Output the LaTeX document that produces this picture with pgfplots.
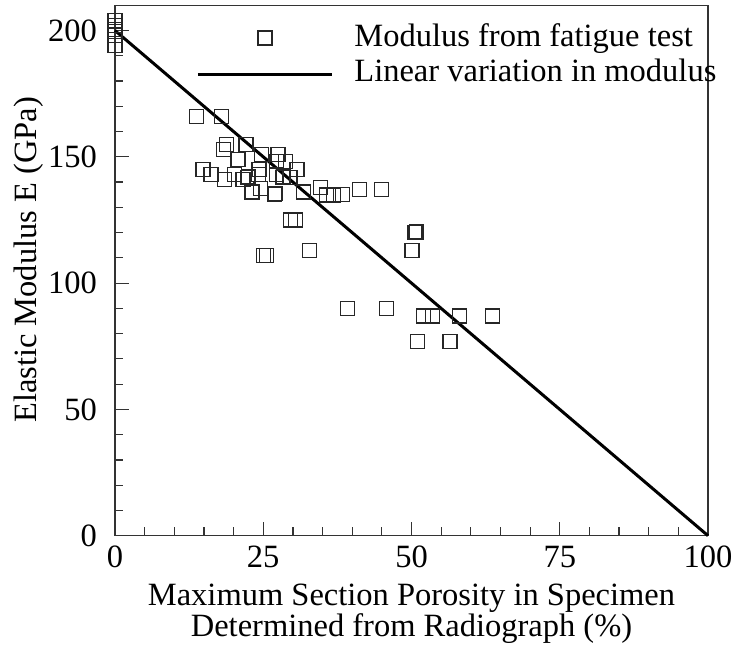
\documentclass[border=0pt]{standalone}
\usepackage{fontspec}
\setmainfont{Liberation Serif}
\usepackage{pgfplots}
\pgfplotsset{compat=1.18}
\pgfplotstableread{
x y
0 204
0 202
0 200.5
0 199.5
0 198
0 194
13.8 165.9
18.0 165.9
18.8 154.9
18.3 153.0
22.1 154.9
20.7 148.9
20.8 149.1
24.7 150.9
27.5 150.9
27.3 148.1
28.7 148.1
14.8 144.9
14.9 145.1
16.2 143.0
18.4 140.9
20.1 143.0
21.6 141.0
22.4 141.9
22.5 142.1
24.3 144.9
24.2 143.0
27.3 142.9
28.3 141.9
28.4 142.1
29.5 141.9
30.7 144.9
23.1 136.1
24.5 137.6
26.9 135.2
27.0 135.5
31.8 136.1
34.6 138.0
35.7 134.9
36.8 134.9
38.3 135.2
41.2 137.0
45.0 137.0
29.6 125.0
30.4 125.0
50.6 120.0
50.8 120.2
50.1 113.0
25.1 111.0
25.6 111.0
32.8 113.0
39.2 90.1
45.8 90.1
52.0 87.0
53.5 87.0
58.1 87.0
63.7 87.0
51.0 76.9
56.5 76.9
}\fatigue
\begin{document}
\begin{tikzpicture}[font=\fontsize{16.25}{15.5}\selectfont]
\begin{axis}[
  scale only axis,
  width=296.5pt, height=265.2pt,
  xmin=0, xmax=100, ymin=0, ymax=210,
  xtick={0,25,50,75,100}, ytick={0,50,100,150,200},
  minor x tick num=4, minor y tick num=4,
  xtick pos=lower, ytick pos=left,
  tick align=inside,
  major tick length=7pt, minor tick length=4.2pt,
  axis line style={line width=0.7pt, black!80},
  every tick/.style={line width=0.6pt, black!80},
  /pgf/number format/assume math mode=true,
  yticklabel style={xshift=-5.5pt},
  xticklabel style={yshift=-1.5pt},
  clip=false,
  xlabel={Maximum Section Porosity in Specimen\\Determined from Radiograph (\%)},
  xlabel style={align=center, yshift=-1.5pt},
  ylabel={Elastic Modulus E (GPa)},
  every axis y label/.style={at={(axis description cs:-0.133,0.52)}, rotate=90, anchor=base},
  legend style={draw=none, fill=none, at={(rel axis cs:0.1265,0.972)}, anchor=north west,
    legend cell align=left, column sep=10.5pt, row sep=3pt,
    nodes={inner sep=0pt, text height=11pt, text depth=3.5pt}},
]
\addplot[only marks, mark=square, mark size=3.5pt, mark options={line width=0.6pt, draw=black!85},
  legend image code/.code={\draw[mark repeat=2,mark phase=2] plot coordinates {(0pt,0.5pt) (33.5pt,0.5pt) (67pt,0.5pt)};}]
  table[x=x,y=y] {\fatigue};
\addlegendentry{Modulus from fatigue test}
\addplot[black, line width=1.5pt,
  legend image code/.code={\draw (0pt,0pt) -- (67pt,0pt);}]
  coordinates {(0,200) (100,0)};
\addlegendentry{Linear variation in modulus}
\end{axis}
\pgfresetboundingbox
\path (current axis.south west) ++(-57.5pt,-54.65pt) coordinate (bbsw);
\path (current axis.north east) ++(20.5pt,2.65pt) coordinate (bbne);
\useasboundingbox (bbsw) rectangle (bbne);
\end{tikzpicture}
\end{document}
